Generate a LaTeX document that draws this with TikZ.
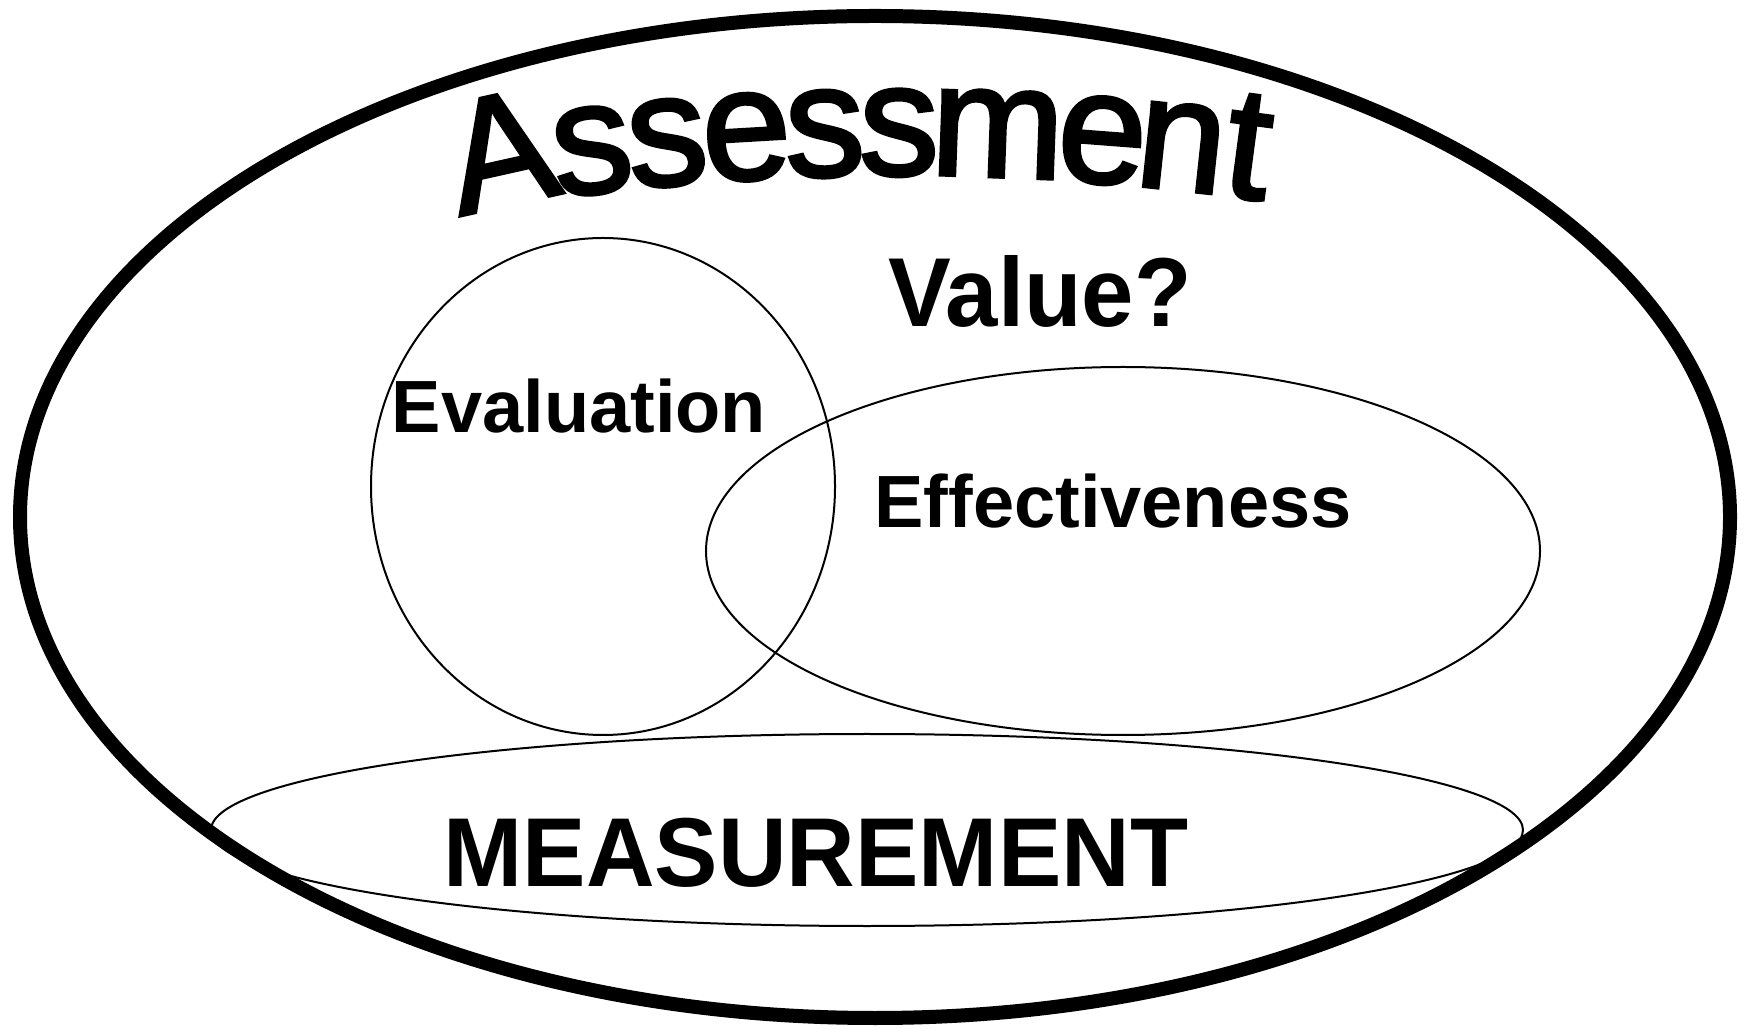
\documentclass[tikz,border=0pt]{standalone}
\usepackage{fontspec}
\setmainfont{Liberation Sans}
\newfontfamily\titlefont[FakeBold=2.2]{Liberation Sans}
\usepackage{graphicx}

\begin{document}
\begin{tikzpicture}[
    x=1pt, y=1pt,
    outer/.style={draw=black, line width=14pt},
    ring/.style={draw=black, line width=2pt},
    word/.style={inner sep=0pt, anchor=base, font=\bfseries\fontsize{74}{80}\selectfont},
    bigword/.style={word, font=\bfseries\fontsize{96}{104}\selectfont},
    arcletter/.style={inner sep=0pt, anchor=base, font=\titlefont\fontsize{160}{170}\selectfont}]
 \useasboundingbox (0,0) rectangle (1752,1028);
 \fill[white] (0,0) rectangle (1752,1028);
 % centres of the sets
 \coordinate (assess) at (875,511);
 \coordinate (eval) at (603,541.5);
 \coordinate (effect) at (1123,477);
 \coordinate (measure) at (867,198);
 \draw[outer] (assess) ellipse (855 and 501);
 \draw[ring] (eval) ellipse (232 and 248.5);
 \draw[ring] (effect) ellipse (417 and 184);
 \draw[ring] (measure) ellipse (656 and 96);
 % labels
 \node[bigword, font=\bfseries\fontsize{98}{104}\selectfont] (value) at (1040,701) {\scalebox{0.96}[1]{Value?}};
 \node[word] (evaluation) at (579,595) {Evaluation};
 \node[word] (effectiveness) at (1113,500) {Effectiveness};
 \node[bigword] (measurement) at (816,142) {\scalebox{0.99}[1.02]{MEASUREMENT}};
 % title bent along an arc
 \coordinate (arcctr) at (900,-1747);
 \foreach \ch/\px/\tilt [count=\i] in {A/512/4,s/597/0,s/671/0,e/749/0,s/826/0,s/899/0,m/996/0,e/1099/0,n/1177/0,t/1242/0} {
   \pgfmathsetmacro\ang{asin((\px-900)/2600)}
   \pgfmathsetmacro\rot{\tilt-(\ang)}
   \pgfmathsetmacro\dir{90-(\ang)}
   \node[arcletter, rotate=\rot] (title\i) at ([shift={(\dir:2600)}]arcctr) {\makebox[0.8\width][c]{\ch}};
 }
\end{tikzpicture}
\end{document}
